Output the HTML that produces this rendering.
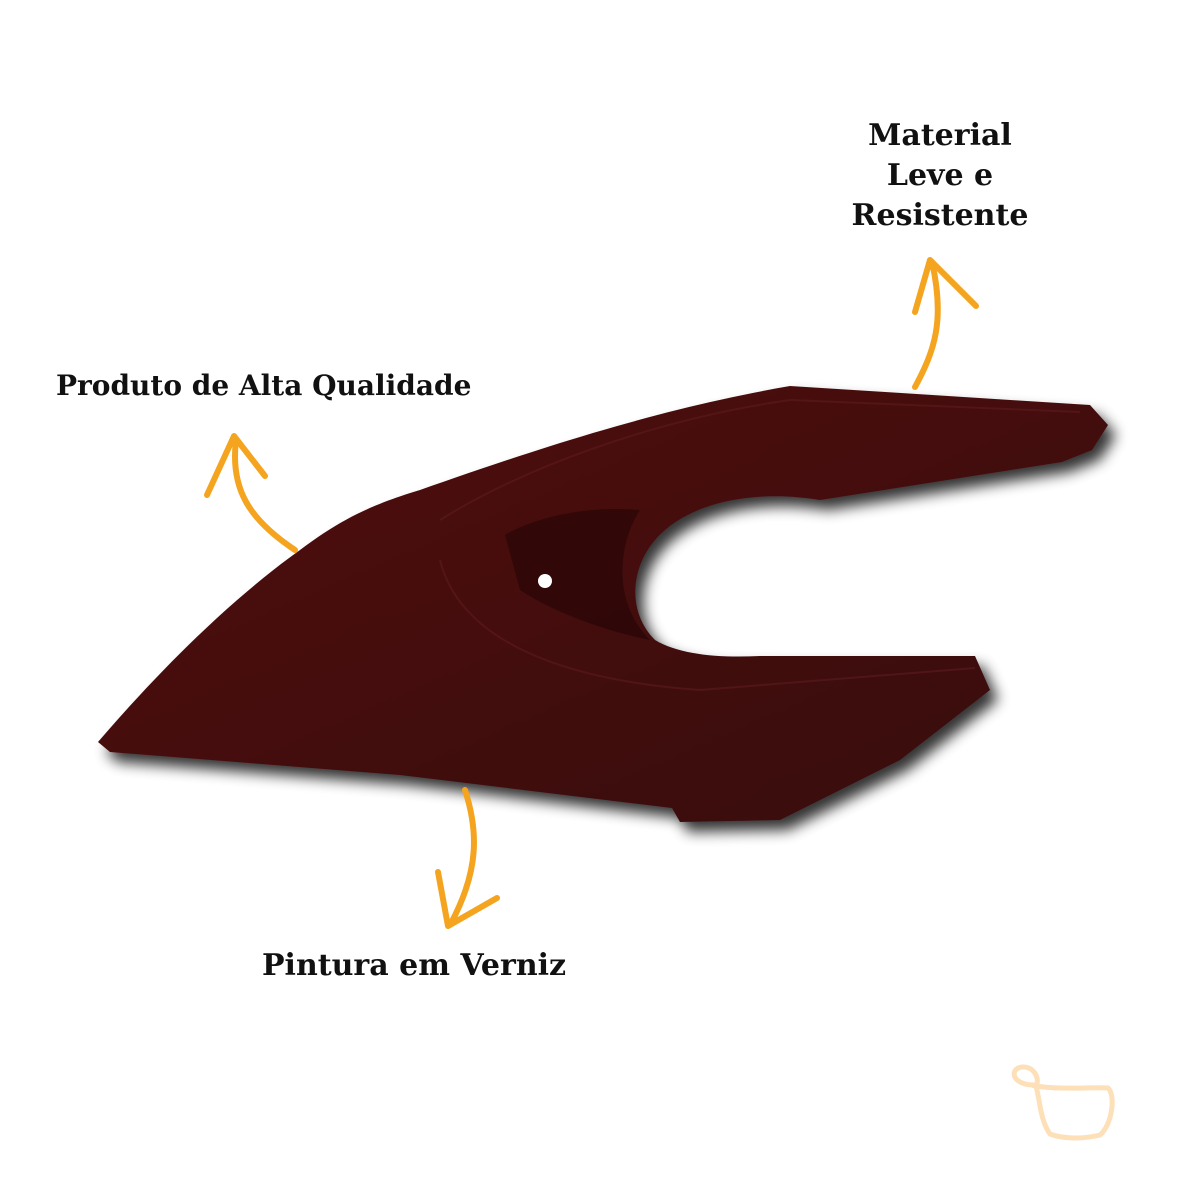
<!DOCTYPE html>
<html><head><meta charset="utf-8"><style>
html,body{margin:0;padding:0;background:#fff;}
.t{position:absolute;font-family:"DejaVu Serif","Liberation Serif",serif;font-weight:bold;font-size:30px;color:#111;white-space:nowrap;}
</style></head><body>
<div style="position:relative;width:1200px;height:1200px;overflow:hidden;background:#fff">
<svg width="1200" height="1200" viewBox="0 0 1200 1200" style="position:absolute;left:0;top:0">
<defs>
<filter id="sh" x="-10%" y="-10%" width="120%" height="130%"><feGaussianBlur in="SourceAlpha" stdDeviation="7"/><feOffset dx="8" dy="10"/><feComponentTransfer><feFuncA type="linear" slope="0.8"/></feComponentTransfer><feMerge><feMergeNode/><feMergeNode in="SourceGraphic"/></feMerge></filter>
<linearGradient id="g" x1="0" y1="0" x2="1" y2="1"><stop offset="0" stop-color="#4e1215"/><stop offset="0.5" stop-color="#440b0d"/><stop offset="1" stop-color="#360809"/></linearGradient>
</defs>
<path filter="url(#sh)" fill="url(#g)" d="M98,742 C160,670 230,600 300,550 C340,520 370,505 420,490 C520,455 650,410 790,386 L1090,405 L1108,425 L1092,450 L1062,462 L820,500 C760,490 700,500 665,530 C630,560 625,610 655,640 C680,655 720,658 760,656 L975,656 L990,690 L900,760 L780,820 L680,822 L672,808 L400,775 L110,752 Z"/>
<path d="M440,520 C520,470 650,420 790,400 L1080,412" stroke="#5e1a1e" stroke-width="2" fill="none" opacity="0.6"/>
<path d="M440,560 C460,640 560,680 700,690 L975,668" stroke="#5e1a1e" stroke-width="2" fill="none" opacity="0.6"/>
<path d="M505,535 C530,520 580,505 640,510 C620,540 610,600 650,640 C600,630 550,610 520,590 Z" fill="#2a0507" opacity="0.7"/>
<circle cx="545" cy="581" r="7" fill="#fff"/>
<g stroke="#f5a41f" stroke-width="6" fill="none" stroke-linecap="round" stroke-linejoin="round">
<path d="M295,550 C250,520 230,490 236,440"/>
<path d="M207,495 L234,436 L265,476"/>
<path d="M915,387 C935,350 945,320 932,262"/>
<path d="M915,312 L930,260 L976,306"/>
<path d="M465,790 C478,830 480,870 450,925"/>
<path d="M438,872 L448,926 L497,898"/>
</g>
<path d="M1035,1085 C1010,1085 1010,1068 1022,1067 C1035,1066 1040,1080 1036,1086 C1060,1090 1090,1087 1108,1088 C1116,1095 1112,1125 1100,1135 C1080,1140 1060,1138 1050,1134 C1040,1120 1040,1100 1036,1086" stroke="#fde0b8" stroke-width="5" fill="none" stroke-linecap="round"/>
</svg>
<div class="t" style="left:56px;top:369px;font-size:28px">Produto de Alta Qualidade</div>
<div class="t" style="left:830px;top:116px;text-align:center;width:220px;line-height:40px">Material<br>Leve e<br>Resistente</div>
<div class="t" style="left:262px;top:948px">Pintura em Verniz</div>
</div>
</body></html>
